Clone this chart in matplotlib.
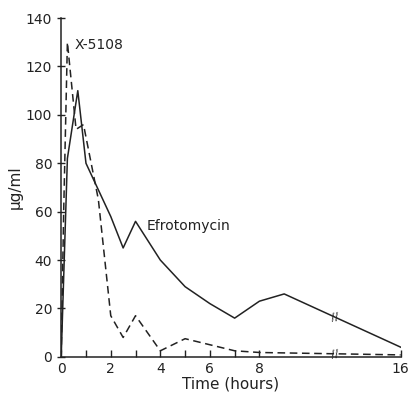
import matplotlib
matplotlib.use('Agg')
import matplotlib.pyplot as plt
import numpy as np

# Efrotomycin (solid) and X-5108 (dashed) serum levels
efro_t = [0, 0.25, 0.67, 1, 1.5, 2, 2.5, 3, 4, 5, 6, 7, 8, 9, 16]
efro_y = [0, 82, 110, 80, 69, 58, 45, 56, 40, 29, 22, 16, 23, 26, 4]

x5108_t = [0, 0.1, 0.25, 0.6, 0.9, 1.5, 2, 2.5, 3, 4, 5, 6, 7, 8, 16]
x5108_y = [0, 60, 130, 94, 96, 65, 17, 8, 17, 2.5, 7.5, 5, 2.5, 1.8, 0.8]

xticks = [0, 2, 4, 6, 8, 16]
yticks = [0, 20, 40, 60, 80, 100, 120, 140]

BRK = 11.0
SQZ = 0.54

def fwd(t):
    t = np.asarray(t, dtype=float)
    return np.where(t <= BRK, t, BRK + (t - BRK) * SQZ)

def inv(p):
    p = np.asarray(p, dtype=float)
    return np.where(p <= BRK, p, BRK + (p - BRK) / SQZ)

fig = plt.figure(figsize=(4.08, 3.93), dpi=100)
ax = fig.add_axes([0.15, 0.092, 0.832, 0.862])
ax.set_xscale('function', functions=(fwd, inv))

ax.plot(efro_t, efro_y, color='#222222', lw=1.1)
ax.plot(x5108_t, x5108_y, color='#222222', lw=1.1, ls=(0, (5, 3)))

ax.set_xlim(0, 16)
ax.set_ylim(0, 140)
ax.set_xticks(xticks)
ax.set_xticks(list(range(0, 9)), minor=True)
ax.set_yticks(yticks)
ax.tick_params(axis='both', which='both', direction='in', length=5, width=1,
               labelsize=10, colors='#222222')
ax.tick_params(axis='y', direction='inout', length=6)
ax.tick_params(axis='x', pad=4)

for s in ['top', 'right']:
    ax.spines[s].set_visible(False)
for s in ['left', 'bottom']:
    ax.spines[s].set_linewidth(1.1)
    ax.spines[s].set_color('#222222')

# break marks
for yv in [np.interp(fwd(11.1), fwd(efro_t), efro_y), 1.2]:
    ax.text(11.1, yv, '//', ha='center', va='center', fontsize=8,
            color='#222222', rotation=10)

ax.text(0.55, 129, 'X-5108', fontsize=10, va='center', color='#222222')
ax.text(3.45, 54, 'Efrotomycin', fontsize=10, va='center', color='#222222')

ax.set_xlabel('Time (hours)', fontsize=11, labelpad=0, color='#222222')
ax.set_ylabel('\u03bcg/ml', fontsize=11, labelpad=2, color='#222222')

fig.savefig('out.png', dpi=100)
